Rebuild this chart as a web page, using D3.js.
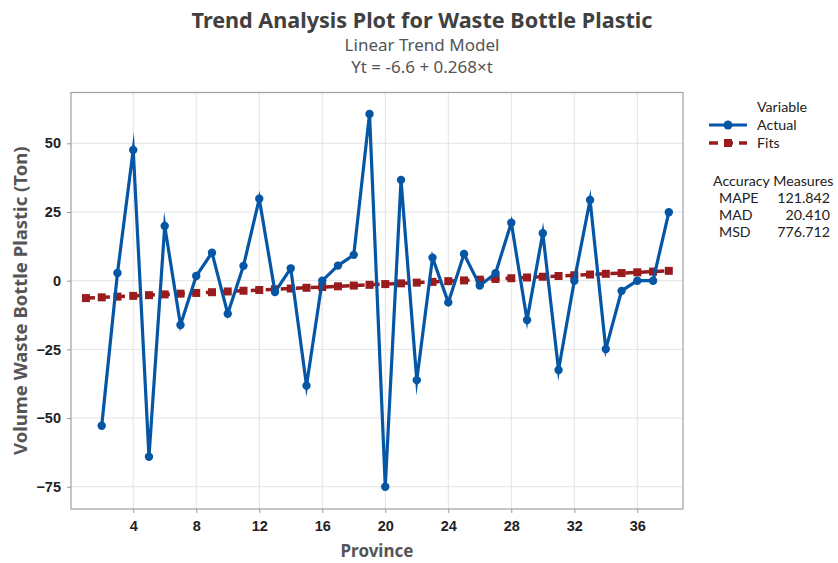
<!DOCTYPE html>
<html>
<head>
<meta charset="utf-8">
<script src="https://cdn.jsdelivr.net/npm/d3@7"></script>
<style>
  body { margin: 0; background: #fff; }
  svg { font-family: "Noto Sans", "Open Sans", sans-serif; }
  .legend text { font-family: Lato, "Noto Sans", sans-serif; font-size: 14.2px; fill: #222; }
</style>
</head>
<body>
<svg width="838" height="563"></svg>
<script>
// actual values start at t = 2
const actualT = [2,3,4,5,6,7,8,9,10,11,12,13,14,15,16,17,18,19,20,21,22,23,24,25,26,27,28,29,30,31,32,33,34,35,36,37,38];
const actualValues = [-52.8, 2.8, 47.6, -64.1, 19.9, -16.1, 1.7, 10.2, -12.0, 5.4, 29.8, -4.1, 4.5, -38.2, 0.0, 5.5, 9.4, 60.7, -75.0, 36.7, -36.2, 8.4, -7.9, 9.7, -1.8, 2.7, 21.1, -14.3, 17.3, -32.5, 0.0, 29.4, -24.9, -3.7, 0.0, 0.0, 24.9];
const fitT = [1,2,3,4,5,6,7,8,9,10,11,12,13,14,15,16,17,18,19,20,21,22,23,24,25,26,27,28,29,30,31,32,33,34,35,36,37,38];
const fitValues = [-6.33, -6.06, -5.80, -5.53, -5.26, -4.99, -4.72, -4.46, -4.19, -3.92, -3.65, -3.38, -3.12, -2.85, -2.58, -2.31, -2.04, -1.78, -1.51, -1.24, -0.97, -0.70, -0.44, -0.17, 0.10, 0.37, 0.64, 0.90, 1.17, 1.44, 1.71, 1.98, 2.24, 2.51, 2.78, 3.05, 3.32, 3.58];
const xTicks = [4, 8, 12, 16, 20, 24, 28, 32, 36];
const yTicks = [-75, -50, -25, 0, 25, 50];
const accuracyNames = ['MAPE', 'MAD', 'MSD'];
const accuracyValues = ['121.842', '20.410', '776.712'];

const blue = '#0656a6';
const red = '#981b1e';
const textColor = '#404040';

const margin = { top: 92.5, right: 155, bottom: 54, left: 71 };
const width = 838 - margin.left - margin.right;
const height = 563 - margin.top - margin.bottom;

const svg = d3.select('svg');

const x = d3.scaleLinear().domain([0.05, 38.9]).range([0, width]);
const y = d3.scaleLinear().domain([-83.1, 68.5]).range([height, 0]);

const g = svg.append('g').attr('transform', `translate(${margin.left},${margin.top})`);

// gridlines
g.append('g').selectAll('line').data(xTicks).enter().append('line')
  .attr('x1', d => x(d)).attr('x2', d => x(d))
  .attr('y1', 0).attr('y2', height)
  .attr('stroke', '#e3e3e3').attr('stroke-width', 1);
g.append('g').selectAll('line').data(yTicks).enter().append('line')
  .attr('y1', d => y(d)).attr('y2', d => y(d))
  .attr('x1', 0).attr('x2', width)
  .attr('stroke', '#e3e3e3').attr('stroke-width', 1);

// axes
const xAxis = g.append('g')
  .attr('transform', `translate(0,${height})`)
  .call(d3.axisBottom(x).tickValues(xTicks).tickSize(4).tickSizeOuter(0));
const yAxis = g.append('g')
  .call(d3.axisLeft(y).tickValues(yTicks).tickSize(4).tickSizeOuter(0));
[xAxis, yAxis].forEach(a => {
  a.select('.domain').remove();
  a.selectAll('.tick line').attr('stroke', '#9a9a9a');
  a.selectAll('.tick text')
    .attr('fill', '#222')
    .style('font-size', '14.5px')
    .style('font-weight', '600');
});
xAxis.selectAll('.tick text').attr('dy', '1.05em');
yAxis.selectAll('.tick text').attr('x', -10);

// frame
g.append('rect')
  .attr('width', width).attr('height', height)
  .attr('fill', 'none').attr('stroke', '#a0a0a0').attr('stroke-width', 1.2);

// fits
const fitData = fitT.map((t, i) => ({ t, v: fitValues[i] }));
const line = d3.line().x(d => x(d.t)).y(d => y(d.v));
g.append('path').datum(fitData)
  .attr('d', line)
  .attr('fill', 'none')
  .attr('stroke', red)
  .attr('stroke-width', 3.5)
  .attr('stroke-dasharray', '9 6');
g.append('g').selectAll('rect').data(fitData).enter().append('rect')
  .attr('x', d => x(d.t) - 4).attr('y', d => y(d.v) - 4)
  .attr('width', 8).attr('height', 8)
  .attr('fill', red);

// actual
const actualData = actualT.map((t, i) => ({ t, v: actualValues[i] }));
g.append('path').datum(actualData)
  .attr('d', line)
  .attr('fill', 'none')
  .attr('stroke', blue)
  .attr('stroke-width', 3.2)
  .attr('stroke-linejoin', 'miter')
  .attr('stroke-miterlimit', 12);
g.append('g').selectAll('circle').data(actualData).enter().append('circle')
  .attr('cx', d => x(d.t)).attr('cy', d => y(d.v))
  .attr('r', 4.2)
  .attr('fill', blue);

// titles
svg.append('text')
  .attr('x', 422).attr('y', 28)
  .attr('text-anchor', 'middle')
  .attr('fill', textColor)
  .style('font-size', '21.6px').style('font-weight', '700')
  .text('Trend Analysis Plot for Waste Bottle Plastic');
svg.append('text')
  .attr('x', 422).attr('y', 51)
  .attr('text-anchor', 'middle')
  .attr('fill', '#555')
  .style('font-size', '17px')
  .text('Linear Trend Model');
svg.append('text')
  .attr('x', 422).attr('y', 73)
  .attr('text-anchor', 'middle')
  .attr('fill', '#555')
  .style('font-size', '17px')
  .text('Yt = -6.6 + 0.268×t');

// axis titles
svg.append('text')
  .attr('x', margin.left + width / 2).attr('y', 557)
  .attr('text-anchor', 'middle')
  .attr('fill', '#555')
  .style('font-size', '17px').style('font-weight', '700')
  .text('Province');
svg.append('text')
  .attr('transform', `translate(27,${margin.top + height / 2}) rotate(-90)`)
  .attr('text-anchor', 'middle')
  .attr('fill', '#555')
  .style('font-size', '18.5px').style('font-weight', '700')
  .text('Volume Waste Bottle Plastic (Ton)');

// legend
const lg = svg.append('g').attr('class', 'legend');
lg.append('text').attr('x', 757).attr('y', 112).text('Variable');
lg.append('line').attr('x1', 709).attr('x2', 747).attr('y1', 125).attr('y2', 125)
  .attr('stroke', blue).attr('stroke-width', 3.2);
lg.append('circle').attr('cx', 728).attr('cy', 125).attr('r', 4.5).attr('fill', blue);
lg.append('text').attr('x', 757).attr('y', 130).text('Actual');
lg.append('line').attr('x1', 709).attr('x2', 747).attr('y1', 143).attr('y2', 143)
  .attr('stroke', red).attr('stroke-width', 3.5).attr('stroke-dasharray', '9 6');
lg.append('rect').attr('x', 724).attr('y', 139).attr('width', 8).attr('height', 8).attr('fill', red);
lg.append('text').attr('x', 757).attr('y', 148).text('Fits');

lg.append('text').attr('x', 713).attr('y', 186).text('Accuracy Measures');
accuracyNames.forEach((n, i) => {
  lg.append('text').attr('x', 719).attr('y', 203 + i * 17).text(n);
  lg.append('text').attr('x', 830).attr('y', 203 + i * 17)
    .attr('text-anchor', 'end').text(accuracyValues[i]);
});
</script>
</body>
</html>
